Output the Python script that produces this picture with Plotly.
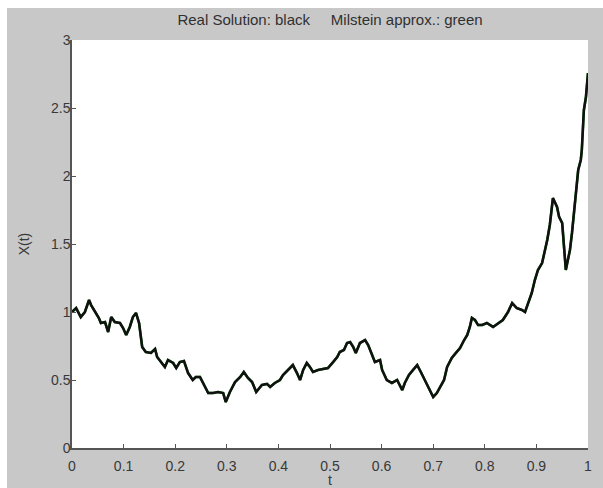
import plotly.graph_objects as go

# Sampled path of the exact solution X(t) on [0, 1]
t = [0.000, 0.008, 0.017, 0.025, 0.033, 0.037, 0.045, 0.052, 0.056, 0.064,
     0.070, 0.076, 0.083, 0.093, 0.099, 0.105, 0.112, 0.118, 0.124, 0.130,
     0.136, 0.143, 0.153, 0.161, 0.165, 0.172, 0.180, 0.186, 0.196, 0.202,
     0.209, 0.217, 0.225, 0.234, 0.240, 0.248, 0.258, 0.264, 0.273, 0.283,
     0.293, 0.298, 0.306, 0.316, 0.326, 0.333, 0.341, 0.349, 0.357, 0.368,
     0.378, 0.384, 0.393, 0.403, 0.409, 0.419, 0.428, 0.436, 0.442, 0.448,
     0.455, 0.461, 0.467, 0.477, 0.486, 0.496, 0.506, 0.514, 0.519, 0.527,
     0.533, 0.539, 0.545, 0.550, 0.558, 0.568, 0.574, 0.581, 0.587, 0.597,
     0.601, 0.610, 0.620, 0.630, 0.640, 0.645, 0.653, 0.661, 0.669, 0.676,
     0.684, 0.692, 0.700, 0.707, 0.713, 0.721, 0.727, 0.736, 0.744, 0.752,
     0.760, 0.766, 0.771, 0.775, 0.781, 0.787, 0.795, 0.804, 0.816, 0.826,
     0.835, 0.845, 0.853, 0.862, 0.872, 0.878, 0.884, 0.891, 0.897, 0.903,
     0.911, 0.917, 0.921, 0.926, 0.930, 0.932, 0.940, 0.944, 0.950, 0.952,
     0.955, 0.957, 0.961, 0.965, 0.969, 0.975, 0.979, 0.981, 0.986, 0.988,
     0.990, 0.992, 0.996, 0.998, 1.000]

x_real = [1.000, 1.029, 0.963, 1.000, 1.088, 1.051, 1.000, 0.956, 0.919, 0.926,
          0.853, 0.963, 0.926, 0.919, 0.882, 0.831, 0.890, 0.963, 0.993, 0.919,
          0.743, 0.706, 0.699, 0.728, 0.669, 0.632, 0.596, 0.647, 0.625, 0.588,
          0.632, 0.640, 0.551, 0.500, 0.522, 0.522, 0.449, 0.404, 0.404, 0.412,
          0.404, 0.338, 0.412, 0.485, 0.522, 0.559, 0.515, 0.485, 0.412, 0.463,
          0.471, 0.449, 0.478, 0.500, 0.537, 0.574, 0.610, 0.551, 0.500, 0.574,
          0.625, 0.596, 0.559, 0.574, 0.581, 0.588, 0.632, 0.669, 0.706, 0.721,
          0.772, 0.779, 0.743, 0.699, 0.772, 0.794, 0.757, 0.684, 0.632, 0.647,
          0.574, 0.500, 0.478, 0.500, 0.426, 0.478, 0.537, 0.574, 0.610, 0.559,
          0.500, 0.441, 0.375, 0.404, 0.441, 0.500, 0.596, 0.662, 0.699, 0.735,
          0.794, 0.831, 0.890, 0.956, 0.941, 0.904, 0.904, 0.919, 0.890, 0.919,
          0.941, 1.000, 1.066, 1.029, 1.015, 1.000, 1.066, 1.140, 1.235, 1.309,
          1.360, 1.456, 1.529, 1.640, 1.801, 1.838, 1.772, 1.699, 1.654, 1.551,
          1.404, 1.309, 1.382, 1.456, 1.581, 1.824, 1.949, 2.044, 2.118, 2.191,
          2.338, 2.485, 2.581, 2.654, 2.757]

# Milstein scheme on the same Brownian path (coincides with the exact path at this scale)
x_milstein = list(x_real)

x_ticks = [0, 0.1, 0.2, 0.3, 0.4, 0.5, 0.6, 0.7, 0.8, 0.9, 1]
x_ticklabels = ["0", "0.1", "0.2", "0.3", "0.4", "0.5", "0.6", "0.7", "0.8", "0.9", "1"]
y_ticks = [0, 0.5, 1, 1.5, 2, 2.5, 3]
y_ticklabels = ["0", "0.5", "1", "1.5", "2", "2.5", "3"]

FONT = "Liberation Sans, Arial, sans-serif"
BG = "#c8c8c8"
AXIS = "#555555"
TEXT = "#383838"

fig = go.Figure()
fig.add_trace(go.Scatter(x=t, y=x_milstein, mode="lines",
                         line=dict(color="#00a000", width=2.4), hoverinfo="skip"))
fig.add_trace(go.Scatter(x=t, y=x_real, mode="lines",
                         line=dict(color="#111111", width=2.6)))

W, H = 603, 488
ML, MR, MT, MB = 72, 15, 40, 40
pw, ph = W - ML - MR, H - MT - MB


def px(xp):
    return (xp - ML) / pw


def py(yp):
    return (H - MB - yp) / ph


# thin white border along the top and left of the figure
shapes = [
    dict(type="rect", xref="paper", yref="paper", x0=px(0), x1=px(W), y0=py(8), y1=py(0),
         fillcolor="white", line=dict(width=0), layer="below"),
    dict(type="rect", xref="paper", yref="paper", x0=px(0), x1=px(7), y0=py(H), y1=py(0),
         fillcolor="white", line=dict(width=0), layer="below"),
]

fig.update_layout(
    width=W, height=H,
    margin=dict(l=ML, r=MR, t=MT, b=MB, autoexpand=False),
    paper_bgcolor=BG, plot_bgcolor="white",
    showlegend=False,
    shapes=shapes,
    font=dict(family=FONT, size=14, color=TEXT),
    title=dict(text="Real Solution: black     Milstein approx.: green",
               xref="container", x=330 / W, xanchor="center",
               y=1 - 20 / H, yanchor="middle",
               font=dict(family=FONT, size=15, color="#303030")),
    xaxis=dict(range=[0, 1], tickvals=x_ticks, ticktext=x_ticklabels, automargin=False,
               showline=True, linecolor=AXIS, linewidth=1.5, mirror=False,
               ticks="inside", ticklen=4, tickcolor=AXIS, showgrid=False, zeroline=False,
               tickfont=dict(family=FONT, size=14, color=TEXT), ticklabelstandoff=4,
               title=dict(text="t", font=dict(family=FONT, size=14, color=TEXT), standoff=0)),
    yaxis=dict(range=[0, 3], tickvals=y_ticks, ticktext=y_ticklabels, automargin=False,
               showline=True, linecolor=AXIS, linewidth=1.5, mirror=False,
               ticks="inside", ticklen=4, tickcolor=AXIS, showgrid=False, zeroline=False,
               tickfont=dict(family=FONT, size=14, color=TEXT), ticklabelstandoff=-3,
               title=dict(text="X(t)", font=dict(family=FONT, size=14, color=TEXT), standoff=18)),
)

fig.write_html("out.html")
